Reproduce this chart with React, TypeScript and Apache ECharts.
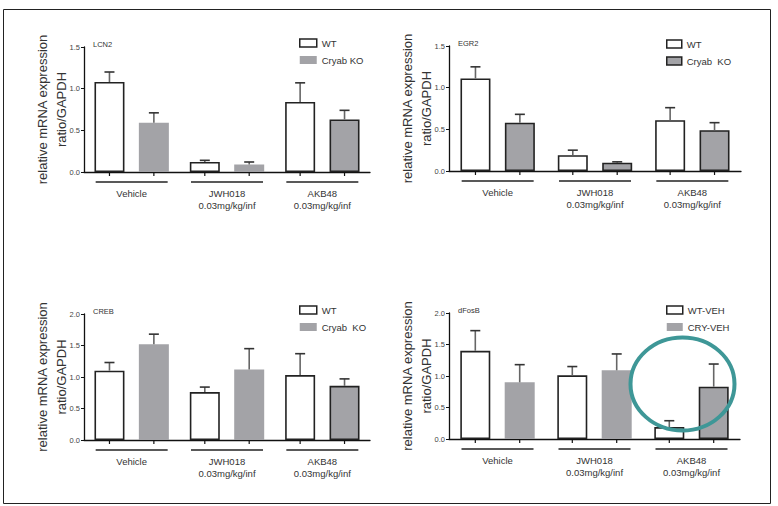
import React, { useEffect, useRef } from "react";
import * as echarts from "echarts";

// ---- data ----
const groups = ["Vehicle", "JWH018\n0.03mg/kg/inf", "AKB48\n0.03mg/kg/inf"];
const yTicks15 = [0, 0.5, 1.0, 1.5];
const yTicks20 = [0, 0.5, 1.0, 1.5, 2.0];

const lcn2WT = [1.08, 0.12, 0.84];
const lcn2WTSem = [0.12, 0.02, 0.23];
const lcn2KO = [0.59, 0.09, 0.63];
const lcn2KOSem = [0.12, 0.03, 0.11];

const egr2WT = [1.11, 0.19, 0.61];
const egr2WTSem = [0.14, 0.06, 0.15];
const egr2KO = [0.58, 0.1, 0.49];
const egr2KOSem = [0.1, 0.01, 0.09];

const crebWT = [1.1, 0.76, 1.03];
const crebWTSem = [0.13, 0.08, 0.34];
const crebKO = [1.52, 1.12, 0.86];
const crebKOSem = [0.16, 0.33, 0.11];

const dfosbWT = [1.4, 1.01, 0.19];
const dfosbWTSem = [0.32, 0.14, 0.1];
const dfosbKO = [0.9, 1.09, 0.83];
const dfosbKOSem = [0.28, 0.26, 0.36];

// ---- styling / layout ----
const FONT = "Liberation Sans";
const GRAY = "#a3a3a7";
const DARK = "#222";
const OFF = 22.2;

type Panel = {
  title: string;
  wtName: string;
  koName: string;
  wt: number[];
  wtSem: number[];
  ko: number[];
  koSem: number[];
  ticks: number[];
  grid: { left: number; top: number; width: number; height: number };
  koBorder: boolean[];
  legendKOBorder: boolean;
  legendPos: { left: number; top: number };
  swatchW: number;
};

const panels: Panel[] = [
  {
    title: "LCN2", wtName: "WT", koName: "Cryab KO",
    wt: lcn2WT, wtSem: lcn2WTSem, ko: lcn2KO, koSem: lcn2KOSem, ticks: yTicks15,
    grid: { left: 84, top: 47, width: 286, height: 125 },
    koBorder: [false, false, true], legendKOBorder: false,
    legendPos: { left: 294, top: 32 }, swatchW: 17,
  },
  {
    title: "EGR2", wtName: "WT", koName: "Cryab  KO",
    wt: egr2WT, wtSem: egr2WTSem, ko: egr2KO, koSem: egr2KOSem, ticks: yTicks15,
    grid: { left: 449, top: 46, width: 292, height: 125 },
    koBorder: [true, true, true], legendKOBorder: true,
    legendPos: { left: 661, top: 33 }, swatchW: 15,
  },
  {
    title: "CREB", wtName: "WT", koName: "Cryab  KO",
    wt: crebWT, wtSem: crebWTSem, ko: crebKO, koSem: crebKOSem, ticks: yTicks20,
    grid: { left: 84, top: 314, width: 286, height: 126 },
    koBorder: [false, false, true], legendKOBorder: false,
    legendPos: { left: 294, top: 299 }, swatchW: 17,
  },
  {
    title: "dFosB", wtName: "WT-VEH", koName: "CRY-VEH",
    wt: dfosbWT, wtSem: dfosbWTSem, ko: dfosbKO, koSem: dfosbKOSem, ticks: yTicks20,
    grid: { left: 449, top: 313, width: 291, height: 126 },
    koBorder: [false, false, true], legendKOBorder: false,
    legendPos: { left: 661, top: 299 }, swatchW: 16,
  },
];

function renderErr(params: any, api: any) {
  const i = api.value(0);
  const base = api.coord([i, 0]);
  const cx = base[0];
  const y0 = base[1];
  const children: any[] = [];
  const pairs = [
    [-OFF, api.value(1), api.value(2)],
    [OFF, api.value(3), api.value(4)],
  ];
  pairs.forEach(([dx, v, s]) => {
    const x = cx + dx;
    const yTop = api.coord([i, v])[1];
    const yErr = api.coord([i, v + s])[1];
    children.push({ type: "line", shape: { x1: x, y1: yTop, x2: x, y2: yErr }, style: { stroke: "#666", lineWidth: 1.6 } });
    children.push({ type: "line", shape: { x1: x - 5, y1: yErr, x2: x + 5, y2: yErr }, style: { stroke: "#333", lineWidth: 1.6 } });
    children.push({ type: "line", shape: { x1: x, y1: y0, x2: x, y2: y0 + 4 }, style: { stroke: "#111", lineWidth: 1.2 } });
  });
  children.push({ type: "line", shape: { x1: cx - 36, y1: y0 + 10, x2: cx + 36, y2: y0 + 10 }, style: { stroke: DARK, lineWidth: 1.3 } });
  return { type: "group", children };
}

function buildOption() {
  const grid: any[] = [];
  const xAxis: any[] = [];
  const yAxis: any[] = [];
  const series: any[] = [];
  const legend: any[] = [];
  const title: any[] = [];

  panels.forEach((p, k) => {
    grid.push({ ...p.grid, containLabel: false });
    xAxis.push({
      type: "category", gridIndex: k, data: groups,
      axisLine: { lineStyle: { color: "#111", width: 1.3 } },
      axisTick: { show: false },
      axisLabel: { margin: 15, fontSize: 9.5, lineHeight: 12, color: "#333", fontFamily: FONT, interval: 0 },
    });
    const max = p.ticks[p.ticks.length - 1];
    yAxis.push({
      type: "value", gridIndex: k, min: 0, max, interval: 0.5,
      name: "relative mRNA expression\nratio/GAPDH",
      nameLocation: "middle", nameRotate: 90, nameGap: 13, nameMoveOverlap: false,
      nameTextStyle: { fontSize: 13, lineHeight: 19, color: "#333", fontFamily: FONT },
      axisLine: { show: true, lineStyle: { color: "#111", width: 1.3 } },
      axisTick: { show: true, length: 3, lineStyle: { color: "#111" } },
      splitLine: { show: false },
      axisLabel: { fontSize: 7.5, margin: 4, color: "#444", fontFamily: FONT, formatter: (v: number) => v.toFixed(1) },
    });
    title.push({
      text: p.title, left: p.grid.left + 4, top: p.grid.top - 12,
      textStyle: { fontSize: 7.5, fontWeight: "normal", color: "#333", fontFamily: FONT },
    });
    legend.push({
      orient: "vertical", left: p.legendPos.left, top: p.legendPos.top,
      itemWidth: p.swatchW, itemHeight: 8, itemGap: 5, selectedMode: false,
      textStyle: { fontSize: 9.5, lineHeight: 12, color: "#333", fontFamily: FONT },
      data: [
        { name: p.wtName, icon: "rect", itemStyle: { color: "#fff", borderColor: DARK, borderWidth: 1.5 } },
        { name: p.koName, icon: "rect", itemStyle: p.legendKOBorder ? { color: GRAY, borderColor: DARK, borderWidth: 1.5 } : { color: GRAY, borderWidth: 0 } },
      ],
    });
    series.push({
      type: "bar", name: p.wtName, xAxisIndex: k, yAxisIndex: k,
      barWidth: 30, barGap: "48%",
      itemStyle: { color: "#fff", borderColor: DARK, borderWidth: 1.6 },
      data: p.wt,
    });
    series.push({
      type: "bar", name: p.koName, xAxisIndex: k, yAxisIndex: k,
      barWidth: 30, barGap: "48%",
      itemStyle: { color: GRAY, borderWidth: 0 },
      data: p.ko.map((v, i) => p.koBorder[i] ? { value: v, itemStyle: { color: GRAY, borderColor: DARK, borderWidth: 1.6 } } : v),
    });
    series.push({
      type: "custom", name: "err" + k, xAxisIndex: k, yAxisIndex: k, z: 5, clip: false,
      renderItem: renderErr,
      encode: { x: 0, y: 1 },
      data: groups.map((_, i) => [i, p.wt[i], p.wtSem[i], p.ko[i], p.koSem[i]]),
    });
  });

  return {
    animation: false,
    backgroundColor: "#fff",
    textStyle: { fontFamily: FONT },
    title, grid, xAxis, yAxis, legend, series,
    graphic: [
      { type: "rect", shape: { x: 3.5, y: 9.5, width: 767, height: 494 }, style: { fill: "none", stroke: "#222", lineWidth: 1 }, silent: true },
      { type: "ellipse", shape: { cx: 682.5, cy: 384, rx: 52, ry: 46.5 }, style: { fill: "none", stroke: "#3e9797", lineWidth: 4 }, z: 10, silent: true },
    ],
  };
}

export default function App() {
  const ref = useRef<HTMLDivElement>(null);
  useEffect(() => {
    if (!ref.current) return;
    const chart = echarts.init(ref.current, undefined, { renderer: "svg" });
    chart.setOption(buildOption() as any);
    return () => chart.dispose();
  }, []);
  return (
    <div
      ref={ref}
      style={{ position: "fixed", left: 0, top: 0, width: 778, height: 506, background: "#fff" }}
    />
  );
}
